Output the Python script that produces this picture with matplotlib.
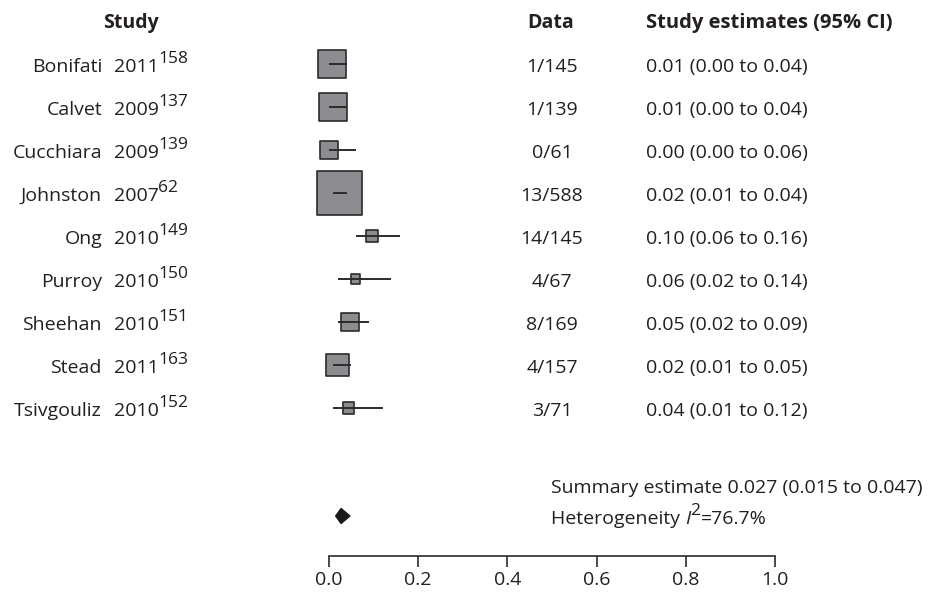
import numpy as np
import matplotlib
matplotlib.use("Agg")
import matplotlib.pyplot as plt
from matplotlib.patches import Polygon

plt.rcParams['font.family'] = ['Open Sans', 'DejaVu Sans']

# data
names = ['Bonifati', 'Calvet', 'Cucchiara', 'Johnston', 'Ong',
         'Purroy', 'Sheehan', 'Stead', 'Tsivgouliz']
years = ['2011', '2009', '2009', '2007', '2010', '2010', '2010', '2011', '2010']
refs = ['158', '137', '139', '62', '149', '150', '151', '163', '152']
events = [1, 1, 0, 13, 14, 4, 8, 4, 3]
totals = [145, 139, 61, 588, 145, 67, 169, 157, 71]
est = [0.01, 0.01, 0.00, 0.02, 0.10, 0.06, 0.05, 0.02, 0.04]
lo = [0.00, 0.00, 0.00, 0.01, 0.06, 0.02, 0.02, 0.01, 0.01]
hi = [0.04, 0.04, 0.06, 0.04, 0.16, 0.14, 0.09, 0.05, 0.12]
# square centre as drawn (unrounded estimate)
pos = [0.007, 0.008, 0.0, 0.024, 0.096, 0.060, 0.047, 0.020, 0.043]
weights = [15.3, 15.3, 6.5, 39.5, 2.7, 1.7, 6.3, 10.3, 2.4]
summ = [0.027, 0.015, 0.047]
i2 = 76.7
ticks = [0.0, 0.2, 0.4, 0.6, 0.8, 1.0]

txt = '#231f20'
W, H = 931, 592
fig = plt.figure(figsize=(W / 100, H / 100), dpi=100)
# axes spans x=329..775 px, y=0..556 px
ax = fig.add_axes([329 / W, (H - 556) / H, (775 - 329) / W, 556 / H])
row0, step = 64, 43.0
ax.set_xlim(0, 1)
ax.set_ylim((556 - row0) / step, -row0 / step)

def xd(px):
    return (px - 329) / 446.0

def yr(px):
    return (px - row0) / step

dy = 3 / step      # text sits a little below the square centre
sup_up = 4 / step  # superscript baseline above text centre

def sup(parent, s, y, size=12.5, **kw):
    # superscript placed right after another text, baseline given in data y
    return ax.annotate(s, xy=(1, y), xycoords=(parent, 'data'), xytext=(-0.3, 0),
                       textcoords='offset points', ha='left', va='baseline',
                       fontsize=size, color=txt, **kw)

n = len(names)
rows = np.arange(n)
side_pt = 7.16 * np.sqrt(np.array(weights)) * 0.72
ax.scatter(pos, rows, marker='s', s=side_pt ** 2, facecolor='#8d8d91',
           edgecolor='#2b2b2b', linewidth=1.2, zorder=2, clip_on=False)
ax.hlines(rows, lo, hi, color='#2b2b2b', linewidth=1.4, zorder=3)

# summary diamond
yd = yr(516)
hh = 7.5 / step
dia = Polygon([[summ[1], yd], [summ[0], yd - hh], [summ[2], yd], [summ[0], yd + hh]],
              closed=True, facecolor='#1a1a1a', edgecolor='#1a1a1a', clip_on=False)
ax.add_patch(dia)

fs = 14
for i in range(n):
    y = i + dy
    ax.text(xd(102), y, names[i], ha='right', va='center', fontsize=fs, color=txt, clip_on=False)
    t = ax.text(xd(114), y, years[i], ha='left', va='center', fontsize=fs, color=txt, clip_on=False)
    sup(t, refs[i], y - sup_up)
    ax.text(xd(552), y, f'{events[i]}/{totals[i]}', ha='center', va='center',
            fontsize=fs, color=txt, clip_on=False)
    ax.text(xd(646), y, f'{est[i]:.2f} ({lo[i]:.2f} to {hi[i]:.2f})', ha='left', va='center',
            fontsize=fs, color=txt, clip_on=False)

hy = yr(23)
ax.text(xd(131), hy, 'Study', ha='center', va='center', fontsize=fs, fontweight='bold', color=txt)
ax.text(xd(551), hy, 'Data', ha='center', va='center', fontsize=fs, fontweight='bold', color=txt)
ax.text(xd(646), hy, 'Study estimates (95% CI)', ha='left', va='center', fontsize=14.5,
        fontweight='bold', color=txt)

ax.text(xd(551), yr(488), f'Summary estimate {summ[0]:.3f} ({summ[1]:.3f} to {summ[2]:.3f})',
        ha='left', va='center', fontsize=fs, color=txt)
hy2 = yr(519)
h1 = ax.text(xd(551), hy2, 'Heterogeneity ', ha='left', va='center', fontsize=fs, color=txt)
h2 = ax.annotate('I', xy=(1, 0), xycoords=h1, ha='left', va='bottom', fontsize=fs,
                 color=txt, style='italic')
h3 = sup(h2, '2', hy2 - sup_up, size=12.5)
ax.annotate(f'={i2}%', xy=(1, 0), xycoords=(h3, h1), xytext=(0.5, 0),
            textcoords='offset points', ha='left', va='bottom', fontsize=fs, color=txt)

for s in ['top', 'left', 'right']:
    ax.spines[s].set_visible(False)
ax.spines['bottom'].set_color('#2b2b2b')
ax.spines['bottom'].set_linewidth(1.2)
ax.set_yticks([])
ax.set_xticks(ticks)
ax.set_xticklabels([f'{t:.1f}' for t in ticks])
ax.tick_params(axis='x', length=8, width=1.2, color='#2b2b2b', labelsize=fs,
               labelcolor=txt, pad=3)
ax.patch.set_visible(False)

fig.savefig('out.png', dpi=100)
